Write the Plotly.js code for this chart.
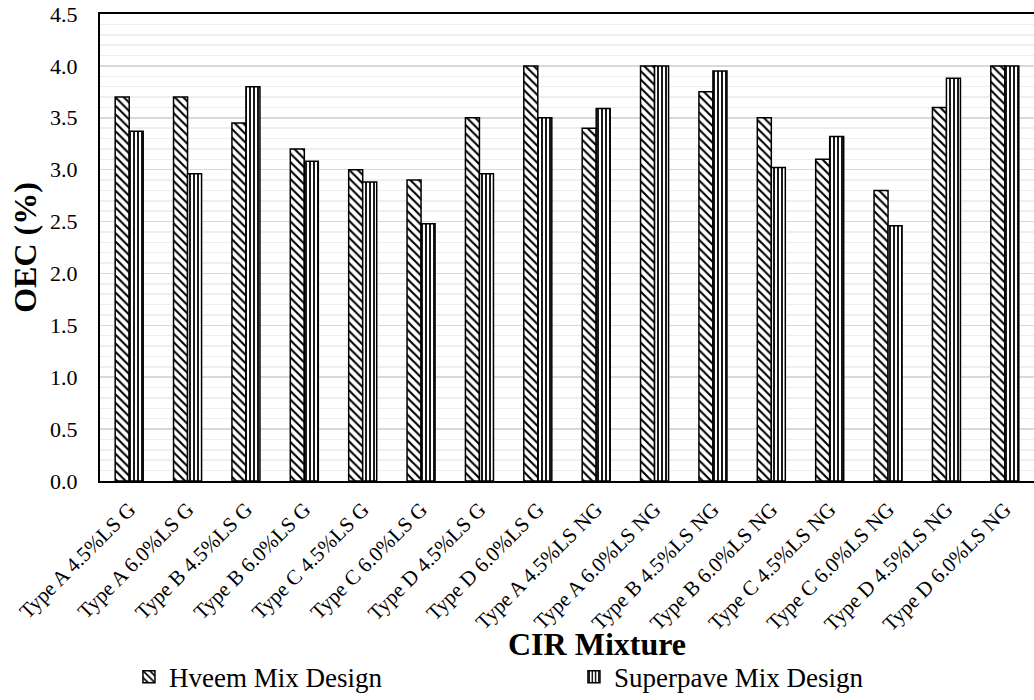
<!DOCTYPE html>
<html>
<head>
<meta charset="utf-8">
<script src="https://cdn.plot.ly/plotly-3.0.1.min.js"></script>
<style>html,body{margin:0;padding:0;background:#fff;}#chart{width:1034px;height:700px;}</style>
</head>
<body>
<div id="chart"></div>
<script>
const categories = [
  "Type A 4.5%LS G","Type A 6.0%LS G","Type B 4.5%LS G","Type B 6.0%LS G",
  "Type C 4.5%LS G","Type C 6.0%LS G","Type D 4.5%LS G","Type D 6.0%LS G",
  "Type A 4.5%LS NG","Type A 6.0%LS NG","Type B 4.5%LS NG","Type B 6.0%LS NG",
  "Type C 4.5%LS NG","Type C 6.0%LS NG","Type D 4.5%LS NG","Type D 6.0%LS NG"
];
const hveem = [3.70,3.70,3.45,3.20,3.00,2.90,3.50,4.00,3.40,4.00,3.75,3.50,3.10,2.80,3.60,4.00];
const superpave = [3.37,2.96,3.80,3.08,2.88,2.48,2.96,3.50,3.59,4.00,3.95,3.02,3.32,2.46,3.88,4.00];
const yTicks = [0,0.5,1,1.5,2,2.5,3,3.5,4,4.5];
const yTickText = yTicks.map(v => v.toFixed(1));
const xTitle = "CIR Mixture";
const yTitle = "OEC (%)";

const font = "Liberation Serif";
const traces = [
  {type:"bar", name:"Hveem Mix Design", x:categories, y:hveem,
   marker:{color:"#ffffff", line:{color:"#000", width:1.5},
     pattern:{shape:"\\", fgcolor:"#000", bgcolor:"#fff", size:6, solidity:0.35}}},
  {type:"bar", name:"Superpave Mix Design", x:categories, y:superpave,
   marker:{color:"#ffffff", line:{color:"#000", width:1.5},
     pattern:{shape:"|", fgcolor:"#000", bgcolor:"#fff", size:4, solidity:0.45}}}
];
const layout = {
  width:1034, height:700,
  margin:{l:100, r:0, t:14, b:219, autoexpand:false},
  paper_bgcolor:"#fff", plot_bgcolor:"#fff",
  barmode:"group", bargap:0.52, bargroupgap:0,
  font:{family:font, color:"#000", size:18},
  showlegend:true,
  legend:{orientation:"h", x:0.031, xanchor:"left", y:-0.42, yanchor:"middle",
    font:{family:font, size:27, color:"#000"}, entrywidth:400, entrywidthmode:"pixels",
    itemwidth:30, traceorder:"normal"},
  xaxis:{type:"category", tickangle:-45, tickfont:{family:font, size:21},
    showline:true, linecolor:"#000", linewidth:2, mirror:true, ticks:"", showgrid:false,
    automargin:false, ticklabelstandoff:6},
  yaxis:{range:[0,4.5], tickvals:yTicks, ticktext:yTickText, tickfont:{family:font, size:22},
    showline:true, linecolor:"#000", linewidth:2, ticks:"", zeroline:false, automargin:false,
    ticklabelstandoff:16,
    showgrid:true, gridcolor:"#d9d9d9", gridwidth:1.5,
    minor:{dtick:0.1, showgrid:true, gridcolor:"#eeeeee", gridwidth:1.5},
    title:{text:"<b>" + yTitle + "</b>", font:{family:font, size:32}, standoff:4}},
  annotations:[
    {text:"<b>" + xTitle + "</b>", xref:"paper", yref:"paper", x:0.532, y:-0.349,
     xanchor:"center", yanchor:"middle", showarrow:false, font:{family:font, size:32, color:"#000"}}
  ]
};
Plotly.newPlot("chart", traces, layout, {displayModeBar:false, staticPlot:true});
</script>
</body>
</html>
